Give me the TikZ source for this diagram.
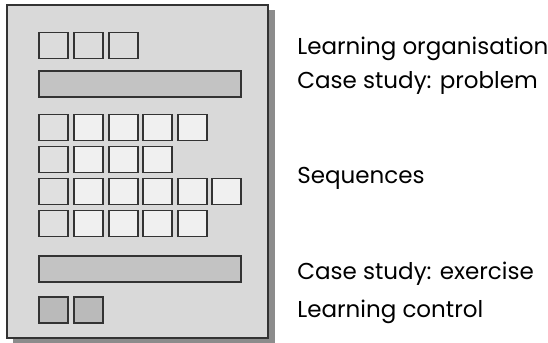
\documentclass[tikz,border=0pt]{standalone}
\usepackage{xcolor}
\usepackage{fontspec}
\usepackage{tikz}
\usetikzlibrary{positioning}
\setmainfont{Poppins}
\definecolor{pagegray}{HTML}{D9D9D9}
\definecolor{shadowgray}{HTML}{8C8C8C}
\definecolor{linegray}{HTML}{333333}
\definecolor{celltop}{HTML}{DCDCDC}
\definecolor{cellfirst}{HTML}{E0E0E0}
\definecolor{celllight}{HTML}{F0F0F0}
\definecolor{barfill}{HTML}{C3C3C3}
\definecolor{ctrlfill}{HTML}{BABABA}

\begin{document}
\begin{tikzpicture}[
  x=0.5pt, y=-0.5pt,
  cell/.style={
    rectangle,
    draw=linegray,
    line width=0.85pt,
    minimum width=14.5pt,
    minimum height=13pt,
    inner sep=0pt
  },
  bar/.style={
    rectangle,
    draw=linegray,
    line width=0.85pt,
    fill=barfill,
    minimum width=101pt,
    minimum height=13pt,
    inner sep=0pt
  },
  label/.style={
    anchor=base west,
    font=\fontsize{11.5}{13}\selectfont,
    text=black,
    inner sep=0pt
  }
]
  \useasboundingbox (0,0) rectangle (548,343);

  % Page with its shadow
  \fill[shadowgray] (13,10) rectangle (275,343);
  \draw[linegray, line width=0.85pt, fill=pagegray] (7,5) rectangle (268,338);

  % Learning organisation
  \node[cell, fill=celltop] (org1) at (53.5,45.5) {};
  \node[cell, fill=celltop] (org2) at (88.5,45.5) {};
  \node[cell, fill=celltop] (org3) at (123.5,45.5) {};

  % Case study: problem
  \node[bar] (problem) at (140,84) {};

  % Sequences - manually placed, one row at a time
  \node[cell, fill=cellfirst] (s11) at (53.5,127.5) {};
  \node[cell, fill=celllight] (s12) at (88.5,127.5) {};
  \node[cell, fill=celllight] (s13) at (123.5,127.5) {};
  \node[cell, fill=celllight] (s14) at (157.5,127.5) {};
  \node[cell, fill=celllight] (s15) at (192.5,127.5) {};

  \node[cell, fill=cellfirst] (s21) at (53.5,159.5) {};
  \node[cell, fill=celllight] (s22) at (88.5,159.5) {};
  \node[cell, fill=celllight] (s23) at (123.5,159.5) {};
  \node[cell, fill=celllight] (s24) at (157.5,159.5) {};

  \node[cell, fill=cellfirst] (s31) at (53.5,191.5) {};
  \node[cell, fill=celllight] (s32) at (88.5,191.5) {};
  \node[cell, fill=celllight] (s33) at (123.5,191.5) {};
  \node[cell, fill=celllight] (s34) at (157.5,191.5) {};
  \node[cell, fill=celllight] (s35) at (192.5,191.5) {};
  \node[cell, fill=celllight] (s36) at (226.5,191.5) {};

  \node[cell, fill=cellfirst] (s41) at (53.5,223.5) {};
  \node[cell, fill=celllight] (s42) at (88.5,223.5) {};
  \node[cell, fill=celllight] (s43) at (123.5,223.5) {};
  \node[cell, fill=celllight] (s44) at (157.5,223.5) {};
  \node[cell, fill=celllight] (s45) at (192.5,223.5) {};

  % Case study: exercise
  \node[bar] (exercise) at (140,269) {};

  % Learning control
  \node[cell, fill=ctrlfill] (ctrl1) at (53.5,310) {};
  \node[cell, fill=ctrlfill] (ctrl2) at (88.5,310) {};

  % Labels
  \node[label] (lblorg) at (297,54) {Learning organisation};
  \node[label] (lblproblem) at (297,88) {Case study: problem};
  \node[label] (lblseq) at (297,183) {Sequences};
  \node[label] (lblexercise) at (297,279) {Case study: exercise};
  \node[label] (lblctrl) at (297,317) {Learning control};
\end{tikzpicture}
\end{document}
